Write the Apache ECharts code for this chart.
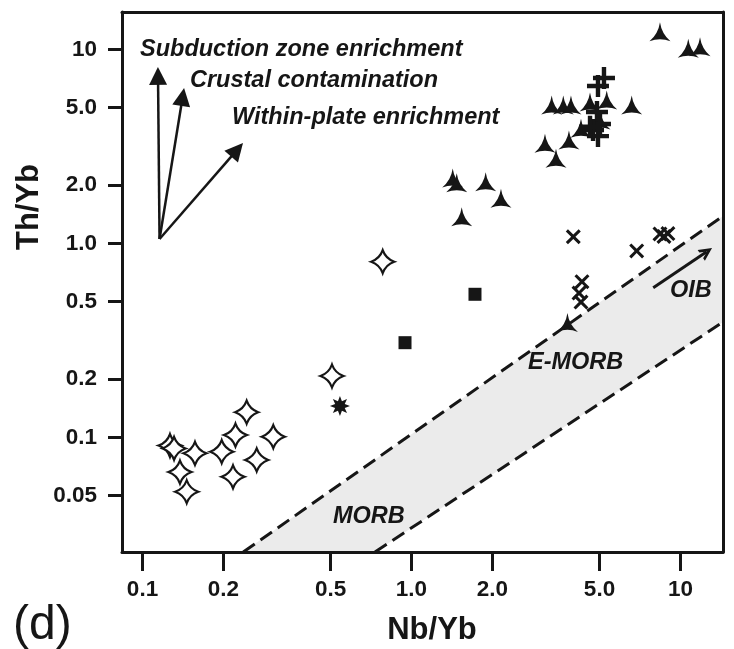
<!DOCTYPE html>
<html><head><meta charset="utf-8">
<script src="https://cdn.jsdelivr.net/npm/echarts@6/dist/echarts.min.js"></script>
<style>html,body{margin:0;padding:0;background:#fff}#c{width:734px;height:649px}</style>
</head><body><div id="c"></div>
<script>
// ---- axis ticks ----
const xTicks = [0.1, 0.2, 0.5, 1, 2, 5, 10];
const xTickLabels = ['0.1', '0.2', '0.5', '1.0', '2.0', '5.0', '10'];
const yTicks = [0.05, 0.1, 0.2, 0.5, 1, 2, 5, 10];
const yTickLabels = ['0.05', '0.1', '0.2', '0.5', '1.0', '2.0', '5.0', '10'];
const xRange = [0.0839, 14.39];
const yRange = [0.02563, 15.57];

// ---- data series (Nb/Yb, Th/Yb) ----
const openStarNbYb = [0.1265, 0.131, 0.1567, 0.1378, 0.146, 0.197, 0.2216, 0.2439, 0.3063, 0.2658, 0.217, 0.5063, 0.7816];
const openStarThYb = [0.0907, 0.0876, 0.0827, 0.0662, 0.0524, 0.0843, 0.1027, 0.1347, 0.1007, 0.0764, 0.0626, 0.207, 0.8038];
const squareNbYb = [0.946, 1.722];
const squareThYb = [0.3074, 0.546];
const burstNbYb = [0.542];
const burstThYb = [0.145];
const tripodNbYb = [1.423, 1.473, 1.887, 2.151, 1.537, 3.32, 3.667, 3.916, 4.609, 5.318, 6.586, 3.135, 3.849, 3.445, 4.267, 5.02, 8.39, 10.69, 11.82, 3.8];
const tripodThYb = [2.17, 2.05, 2.077, 1.706, 1.371, 5.16, 5.16, 5.16, 5.35, 5.48, 5.16, 3.277, 3.408, 2.743, 3.915, 4.32, 12.32, 10.12, 10.31, 0.391];
const plusNbYb = [5.195, 4.935, 4.893, 5.02, 4.73, 4.935, 4.61];
const plusThYb = [7.11, 6.47, 4.75, 4.12, 3.84, 3.57, 3.99];
const crossNbYb = [3.995, 6.874, 8.39, 8.68, 8.98, 4.303, 4.195, 4.267];
const crossThYb = [1.081, 0.913, 1.117, 1.084, 1.123, 0.634, 0.554, 0.498];

// ---- MORB-OIB array boundaries ----
const upperLineNbYb = [0.2369, 14.39];
const upperLineThYb = [0.02563, 1.382];
const lowerLineNbYb = [0.7316, 14.39];
const lowerLineThYb = [0.02563, 0.3928];

// ---- vectors ----
const vectorOrigin = [0.1157, 1.052];
const vectorHeadNbYb = [0.1142, 0.141, 0.2247];
const vectorHeadThYb = [7.29, 5.68, 3.03];
const oibArrowNbYb = [7.92, 12.51];
const oibArrowThYb = [0.59, 0.905];

const zip = (a, b) => a.map((v, i) => [v, b[i]]);

function starPath(n, ro, ri) {
  let s = 'path://';
  for (let i = 0; i < n * 2; i++) {
    const r = i % 2 === 0 ? ro : ri;
    const a = Math.PI * i / n - Math.PI / 2;
    s += (i === 0 ? 'M' : 'L') + (r * Math.cos(a)).toFixed(2) + ',' + (r * Math.sin(a)).toFixed(2);
  }
  return s + 'Z';
}
const ink = '#161616';
const fontFam = '"Liberation Sans", Arial, Helvetica, sans-serif';
const openStarSym = 'path://M0,-10Q2.6,-2.6 10,0Q2.6,2.6 0,10Q-2.6,2.6 -10,0Q-2.6,-2.6 0,-10Z';
const tripodSym = 'path://M0,-10Q1.4,-0.8 8.66,5Q0,1.7 -8.66,5Q-1.4,-0.8 0,-10Z';
const plusSym = 'path://M-2,-10L2,-10L2,-2L10,-2L10,2L2,2L2,10L-2,10L-2,2L-10,2L-10,-2L-2,-2Z';
const crossSym = 'path://M-7,-5L-5,-7L0,-2L5,-7L7,-5L2,0L7,5L5,7L0,2L-5,7L-7,5L-2,0Z';
const chevronSym = 'path://M0,10L5,0L10,10L7.6,10L5,4.6L2.4,10Z';

const tickLabelStyle = { color: ink, fontSize: 22.5, fontWeight: 'bold', fontFamily: fontFam };
const solid = (extra) => Object.assign({ color: ink, opacity: 1 }, extra || {});

const chart = echarts.init(document.getElementById('c'), null, { renderer: 'canvas' });
const option = {
  animation: false,
  backgroundColor: '#fff',
  grid: { left: 122, right: 11, top: 12, bottom: 97, show: false },
  xAxis: [{
    type: 'log', logBase: 10, min: xRange[0], max: xRange[1], position: 'bottom', z: 5,
    axisLine: { show: true, lineStyle: { color: ink, width: 3 } },
    axisTick: { show: true, customValues: xTicks, length: 19, inside: false, lineStyle: { color: ink, width: 3 } },
    axisLabel: { customValues: xTicks, margin: 26, formatter: v => xTickLabels[xTicks.findIndex(t => Math.abs(t - v) < 1e-6 * t)] ?? '', ...tickLabelStyle },
    splitLine: { show: false }, minorTick: { show: false }
  }, {
    type: 'log', logBase: 10, min: xRange[0], max: xRange[1], position: 'top', z: 5,
    axisLine: { show: true, lineStyle: { color: ink, width: 3 } },
    axisTick: { show: false }, axisLabel: { show: false }, splitLine: { show: false }
  }],
  yAxis: [{
    type: 'log', logBase: 10, min: yRange[0], max: yRange[1], position: 'left', z: 5,
    axisLine: { show: true, lineStyle: { color: ink, width: 3 } },
    axisTick: { show: true, customValues: yTicks, length: 14, lineStyle: { color: ink, width: 3 } },
    axisLabel: { customValues: yTicks, margin: 25, formatter: v => yTickLabels[yTicks.findIndex(t => Math.abs(t - v) < 1e-6 * t)] ?? '', ...tickLabelStyle },
    splitLine: { show: false }
  }, {
    type: 'log', logBase: 10, min: yRange[0], max: yRange[1], position: 'right', z: 5,
    axisLine: { show: true, lineStyle: { color: ink, width: 3 } },
    axisTick: { show: false }, axisLabel: { show: false }, splitLine: { show: false }
  }],
  series: [
    {
      name: 'MORB-OIB array', type: 'custom', z: 1, silent: true,
      data: [[1, 1]],
      renderItem: (params, api) => {
        const poly = [
          [upperLineNbYb[0], upperLineThYb[0]], [upperLineNbYb[1], upperLineThYb[1]],
          [lowerLineNbYb[1], lowerLineThYb[1]], [lowerLineNbYb[0], lowerLineThYb[0]]
        ].map(p => api.coord(p));
        return { type: 'polygon', shape: { points: poly }, style: { fill: '#ebebeb' } };
      }
    },
    { name: 'upper boundary', type: 'line', z: 3, silent: true, symbol: 'none', data: zip(upperLineNbYb, upperLineThYb), lineStyle: { color: ink, width: 3, type: [14, 7] } },
    { name: 'lower boundary', type: 'line', z: 3, silent: true, symbol: 'none', data: zip(lowerLineNbYb, lowerLineThYb), lineStyle: { color: ink, width: 3, type: [14, 7] } },
    {
      name: 'vectors', type: 'lines', coordinateSystem: 'cartesian2d', z: 3, silent: true,
      symbol: ['none', 'triangle'], symbolSize: [13, 18],
      lineStyle: { color: ink, width: 2.5, opacity: 1, curveness: 0 },
      data: vectorHeadNbYb.map((x, i) => ({ coords: [vectorOrigin, [x, vectorHeadThYb[i]]] }))
    },
    {
      name: 'OIB trend', type: 'lines', coordinateSystem: 'cartesian2d', z: 3, silent: true,
      symbol: ['none', chevronSym], symbolSize: [17, 13],
      lineStyle: { color: ink, width: 3, opacity: 1, curveness: 0 },
      data: [{ coords: zip(oibArrowNbYb, oibArrowThYb) }]
    },
    { name: 'open stars', type: 'scatter', z: 4, symbol: openStarSym, symbolSize: 23, data: zip(openStarNbYb, openStarThYb), itemStyle: { color: '#fff', opacity: 1, borderColor: ink, borderWidth: 2.2 } },
    { name: 'squares', type: 'scatter', z: 4, symbol: 'rect', symbolSize: 13, data: zip(squareNbYb, squareThYb), itemStyle: solid() },
    { name: 'star burst', type: 'scatter', z: 4, symbol: starPath(8, 10, 5.2), symbolSize: 20, data: zip(burstNbYb, burstThYb), itemStyle: solid() },
    { name: 'tripods', type: 'scatter', z: 4, symbol: tripodSym, symbolSize: [21, 19], data: zip(tripodNbYb, tripodThYb), itemStyle: solid() },
    { name: 'plus', type: 'scatter', z: 4, symbol: plusSym, symbolSize: 22, data: zip(plusNbYb, plusThYb), itemStyle: solid() },
    { name: 'cross', type: 'scatter', z: 4, symbol: crossSym, symbolSize: 15, data: zip(crossNbYb, crossThYb), itemStyle: solid() }
  ],
  graphic: [
    { type: 'text', left: 140, top: 38, z: 10, style: { text: 'Subduction zone enrichment', fill: ink, font: 'italic bold 23.5px ' + fontFam } },
    { type: 'text', left: 190, top: 69, z: 10, style: { text: 'Crustal contamination', fill: ink, font: 'italic bold 23.5px ' + fontFam } },
    { type: 'text', left: 232, top: 106, z: 10, style: { text: 'Within-plate enrichment', fill: ink, font: 'italic bold 23.5px ' + fontFam } },
    { type: 'text', left: 528, top: 351, z: 10, style: { text: 'E-MORB', fill: ink, font: 'italic bold 23.5px ' + fontFam } },
    { type: 'text', left: 333, top: 505, z: 10, style: { text: 'MORB', fill: ink, font: 'italic bold 23.5px ' + fontFam } },
    { type: 'text', left: 670, top: 279, z: 10, style: { text: 'OIB', fill: ink, font: 'italic bold 23.5px ' + fontFam } },
    { type: 'text', x: 29, y: 207, rotation: Math.PI / 2, z: 10, style: { text: 'Th/Yb', fill: ink, font: 'bold 31px ' + fontFam, align: 'center', verticalAlign: 'middle' } },
    { type: 'text', x: 432, y: 630, z: 10, style: { text: 'Nb/Yb', fill: ink, font: 'bold 31px ' + fontFam, align: 'center', verticalAlign: 'middle' } },
    { type: 'text', x: 13, y: 626, z: 10, style: { text: '(d)', fill: ink, font: '48px ' + fontFam, align: 'left', verticalAlign: 'middle' } }
  ]
};
chart.setOption(option);
</script>
</body></html>
